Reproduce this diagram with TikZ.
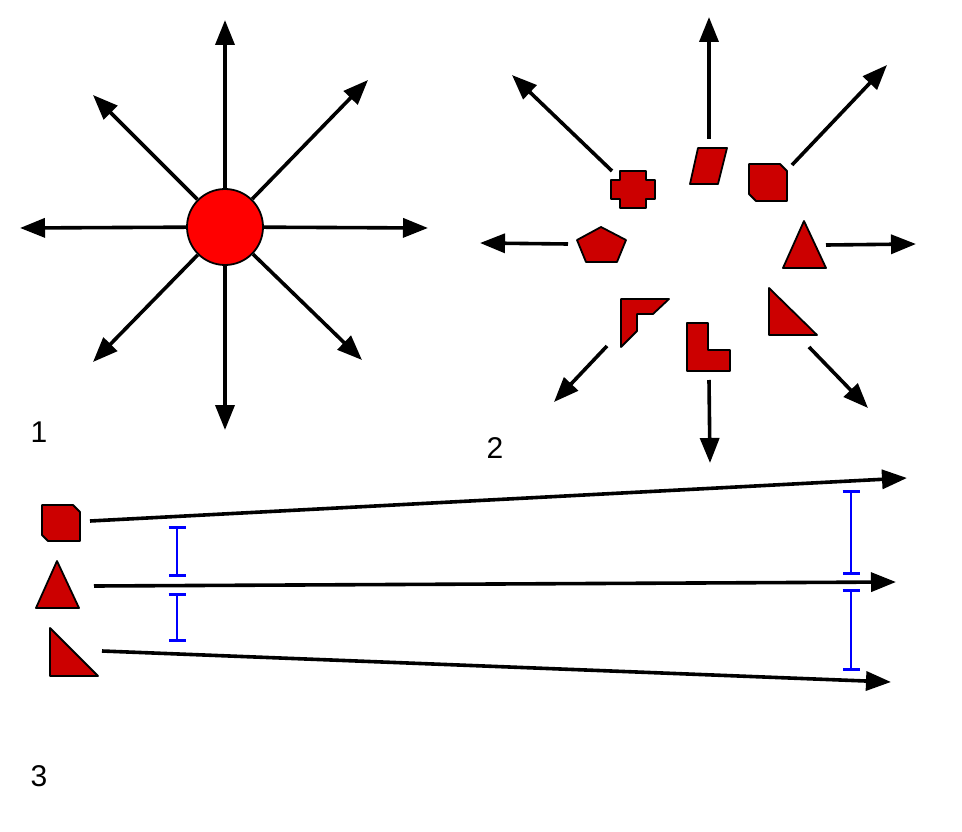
\documentclass[tikz,border=0pt]{standalone}
\usepackage{fontspec}
\setmainfont{Liberation Sans}
\usetikzlibrary{arrows.meta}
\definecolor{shapered}{HTML}{CC0000}
\begin{document}
\begin{tikzpicture}[x=1pt,y=-1pt,
  arr/.style={line width=3.6pt,-{Triangle[length=25pt,width=19pt]}},
  shp/.style={fill=shapered,draw=black,line width=1.8pt,line join=round},
  dimbar/.style={draw=blue,line width=2.8pt,{Bar[width=17pt,line width=2.8pt]}-{Bar[width=17pt,line width=2.8pt]}},
  lbl/.style={font=\fontsize{30}{36}\selectfont,inner sep=0pt}]
\useasboundingbox (0,0) rectangle (962,832);

% ---------- Part 1 ----------
\node[circle,fill=red,draw=black,line width=1.8pt,minimum size=76pt,inner sep=0pt] (c) at (225,227) {};
\coordinate (n1) at (225,20);
\coordinate (s1) at (225,430);
\coordinate (w1) at (20,228);
\coordinate (e1) at (428,228);
\coordinate (nw1) at (93,95);
\coordinate (ne1) at (368,80);
\coordinate (sw1) at (93,362);
\coordinate (se1) at (362,360);
\foreach \t in {n1,s1,w1,e1,nw1,ne1,sw1,se1} \draw[arr] (c) -- (\t);
\node[lbl] (l1) at (39,432) {1};

% ---------- Part 2 shapes ----------
% cross
\draw[shp] (620,171) -- (646,171) -- (646,180) -- (655,180) -- (655,199) -- (646,199) -- (646,208) -- (620,208) -- (620,199) -- (611,199) -- (611,180) -- (620,180) -- cycle;
% parallelogram
\draw[shp] (698,148) -- (727,148) -- (718,184) -- (690,184) -- cycle;
% snipped square
\draw[shp] (749,164) -- (780,164) -- (787,171) -- (787,201) -- (756,201) -- (749,194) -- cycle;
% pentagon
\draw[shp] (601,227) -- (626,240) -- (617,262) -- (586,262) -- (577,240) -- cycle;
% triangle
\draw[shp] (804,221) -- (826,268) -- (783,268) -- cycle;
% right triangle
\draw[shp] (769,288) -- (817,335) -- (769,335) -- cycle;
% corner
\draw[shp] (621,299) -- (669,299) -- (653,314) -- (637,314) -- (637,331) -- (621,347) -- cycle;
% L shape
\draw[shp] (687,323) -- (708,323) -- (708,350) -- (730,350) -- (730,371) -- (687,371) -- cycle;

% ---------- Part 2 arrows ----------
\coordinate (a1s) at (709,139); \coordinate (a1e) at (709,17);
\coordinate (a2s) at (612,171); \coordinate (a2e) at (512,75);
\coordinate (a3s) at (792,165); \coordinate (a3e) at (887,65);
\coordinate (a4s) at (568,244); \coordinate (a4e) at (480,243);
\coordinate (a5s) at (826,245); \coordinate (a5e) at (916,244);
\coordinate (a6s) at (607,346); \coordinate (a6e) at (554,402);
\coordinate (a7s) at (809,347); \coordinate (a7e) at (868,408);
\coordinate (a8s) at (709,380); \coordinate (a8e) at (710,463);
\foreach \i in {1,...,8} \draw[arr] (a\i s) -- (a\i e);
\node[lbl] (l2) at (495,448) {2};

% ---------- Part 3 ----------
\draw[shp] (42,505) -- (73,505) -- (80,512) -- (80,541) -- (48,541) -- (42,535) -- cycle;
\draw[shp] (57,561) -- (79,608) -- (36,608) -- cycle;
\draw[shp] (50,628) -- (98,676) -- (50,676) -- cycle;

\coordinate (b1s) at (90,521);  \coordinate (b1e) at (907,478);
\coordinate (b2s) at (94,586);  \coordinate (b2e) at (896,582);
\coordinate (b3s) at (102,651); \coordinate (b3e) at (891,682);
\foreach \i in {1,2,3} \draw[arr] (b\i s) -- (b\i e);

\coordinate (d1a) at (177,526); \coordinate (d1b) at (177,577);
\coordinate (d2a) at (177,593); \coordinate (d2b) at (177,642);
\coordinate (d3a) at (851,490); \coordinate (d3b) at (851,575);
\coordinate (d4a) at (851,589); \coordinate (d4b) at (851,671);
\foreach \i in {1,2,3,4} \draw[dimbar] (d\i a) -- (d\i b);

\node[lbl] (l3) at (39,776) {3};
\end{tikzpicture}
\end{document}
